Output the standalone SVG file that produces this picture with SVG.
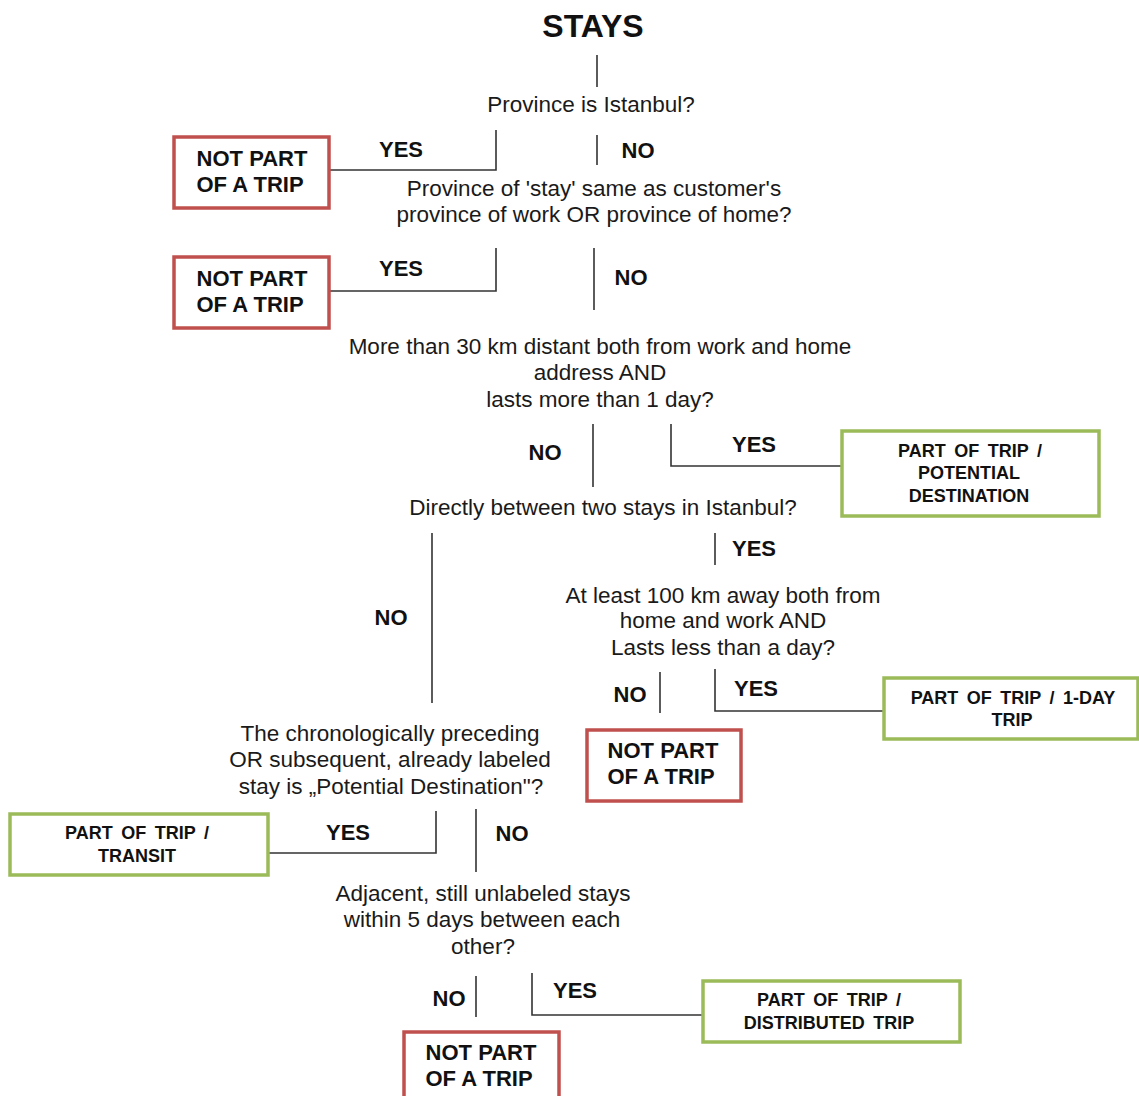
<svg xmlns="http://www.w3.org/2000/svg" width="1139" height="1096" viewBox="0 0 1139 1096">
<style>
.q{font-family:"Liberation Sans",Arial,sans-serif;font-size:22.5px;fill:#1a1a1a;text-anchor:middle}
.lb{font-family:"Liberation Sans",Arial,sans-serif;font-size:22px;font-weight:bold;fill:#111;text-anchor:middle}
.bt{font-family:"Liberation Sans",Arial,sans-serif;font-size:22px;font-weight:bold;fill:#111;text-anchor:middle}
.gt{font-family:"Liberation Sans",Arial,sans-serif;font-size:18px;font-weight:bold;fill:#111;text-anchor:middle;word-spacing:3.5px}
.red{fill:#fff;stroke:#c0504d;stroke-width:3.5}
.grn{fill:#fff;stroke:#9bbb59;stroke-width:3.5}
.c{fill:none;stroke:#333;stroke-width:1.6}
</style>
<rect width="1139" height="1096" fill="#fff"/>
<text x="593" y="37" style="font-family:'Liberation Sans',Arial,sans-serif;font-size:32px;font-weight:bold;fill:#111;text-anchor:middle">STAYS</text>

<g id="connectors">
<path class="c" d="M597 55V87"/>
<path class="c" d="M496 130V170H330"/>
<path class="c" d="M597 135V165"/>
<path class="c" d="M496 248V291H330"/>
<path class="c" d="M594 248V310"/>
<path class="c" d="M593 424V487"/>
<path class="c" d="M671 424V466H841"/>
<path class="c" d="M432 533V703"/>
<path class="c" d="M715 533V565"/>
<path class="c" d="M660 672V713"/>
<path class="c" d="M715 669V711H883"/>
<path class="c" d="M436 811V853H268"/>
<path class="c" d="M476 809V872"/>
<path class="c" d="M476 976V1017"/>
<path class="c" d="M532 973V1015H702"/>
</g>

<g id="labels">
<text class="lb" x="401" y="157">YES</text>
<text class="lb" x="638" y="158">NO</text>
<text class="lb" x="401" y="276">YES</text>
<text class="lb" x="631" y="285">NO</text>
<text class="lb" x="545" y="460">NO</text>
<text class="lb" x="754" y="452">YES</text>
<text class="lb" x="391" y="625">NO</text>
<text class="lb" x="754" y="556">YES</text>
<text class="lb" x="630" y="702">NO</text>
<text class="lb" x="756" y="696">YES</text>
<text class="lb" x="348" y="840">YES</text>
<text class="lb" x="512" y="841">NO</text>
<text class="lb" x="449" y="1006">NO</text>
<text class="lb" x="575" y="998">YES</text>
</g>

<g id="q1"><text class="q" x="591" y="112">Province is Istanbul?</text></g>
<g id="q2"><text class="q" x="594" y="196">Province of 'stay' same as customer's</text><text class="q" x="594" y="222">province of work OR province of home?</text></g>
<g id="q3"><text class="q" x="600" y="354">More than 30 km distant both from work and home</text><text class="q" x="600" y="380">address AND</text><text class="q" x="600" y="407">lasts more than 1 day?</text></g>
<g id="q4"><text class="q" x="603" y="515">Directly between two stays in Istanbul?</text></g>
<g id="q5"><text class="q" x="723" y="603">At least 100 km away both from</text><text class="q" x="723" y="628">home and work AND</text><text class="q" x="723" y="655">Lasts less than a day?</text></g>
<g id="q6"><text class="q" x="390" y="741">The chronologically preceding</text><text class="q" x="390" y="767">OR subsequent, already labeled</text><text class="q" x="391" y="794">stay is „Potential Destination"?</text></g>
<g id="q7"><text class="q" x="483" y="901">Adjacent, still unlabeled stays</text><text class="q" x="482" y="927">within 5 days between each</text><text class="q" x="483" y="954">other?</text></g>

<g id="not1"><rect class="red" x="174" y="137" width="155" height="71"/><text class="bt" x="252" y="166">NOT PART</text><text class="bt" x="250" y="192">OF A TRIP</text></g>
<g id="not2"><rect class="red" x="174" y="257" width="155" height="71"/><text class="bt" x="252" y="286">NOT PART</text><text class="bt" x="250" y="312">OF A TRIP</text></g>
<g id="dest"><rect class="grn" x="842" y="431" width="257" height="85"/><text class="gt" x="970" y="457">PART OF TRIP /</text><text class="gt" x="969" y="479">POTENTIAL</text><text class="gt" x="969" y="502">DESTINATION</text></g>
<g id="oneday"><rect class="grn" x="884" y="678" width="254" height="61"/><text class="gt" x="1013" y="704">PART OF TRIP / 1-DAY</text><text class="gt" x="1012" y="726">TRIP</text></g>
<g id="not3"><rect class="red" x="587" y="730" width="154" height="71"/><text class="bt" x="663" y="758">NOT PART</text><text class="bt" x="661" y="784">OF A TRIP</text></g>
<g id="transit"><rect class="grn" x="10" y="814" width="258" height="61"/><text class="gt" x="137" y="839">PART OF TRIP /</text><text class="gt" x="137" y="862">TRANSIT</text></g>
<g id="distrib"><rect class="grn" x="703" y="981" width="257" height="61"/><text class="gt" x="829" y="1006">PART OF TRIP /</text><text class="gt" x="829" y="1029">DISTRIBUTED  TRIP</text></g>
<g id="not4"><rect class="red" x="404" y="1032" width="155" height="70"/><text class="bt" x="481" y="1060">NOT PART</text><text class="bt" x="479" y="1086">OF A TRIP</text></g>
</svg>
